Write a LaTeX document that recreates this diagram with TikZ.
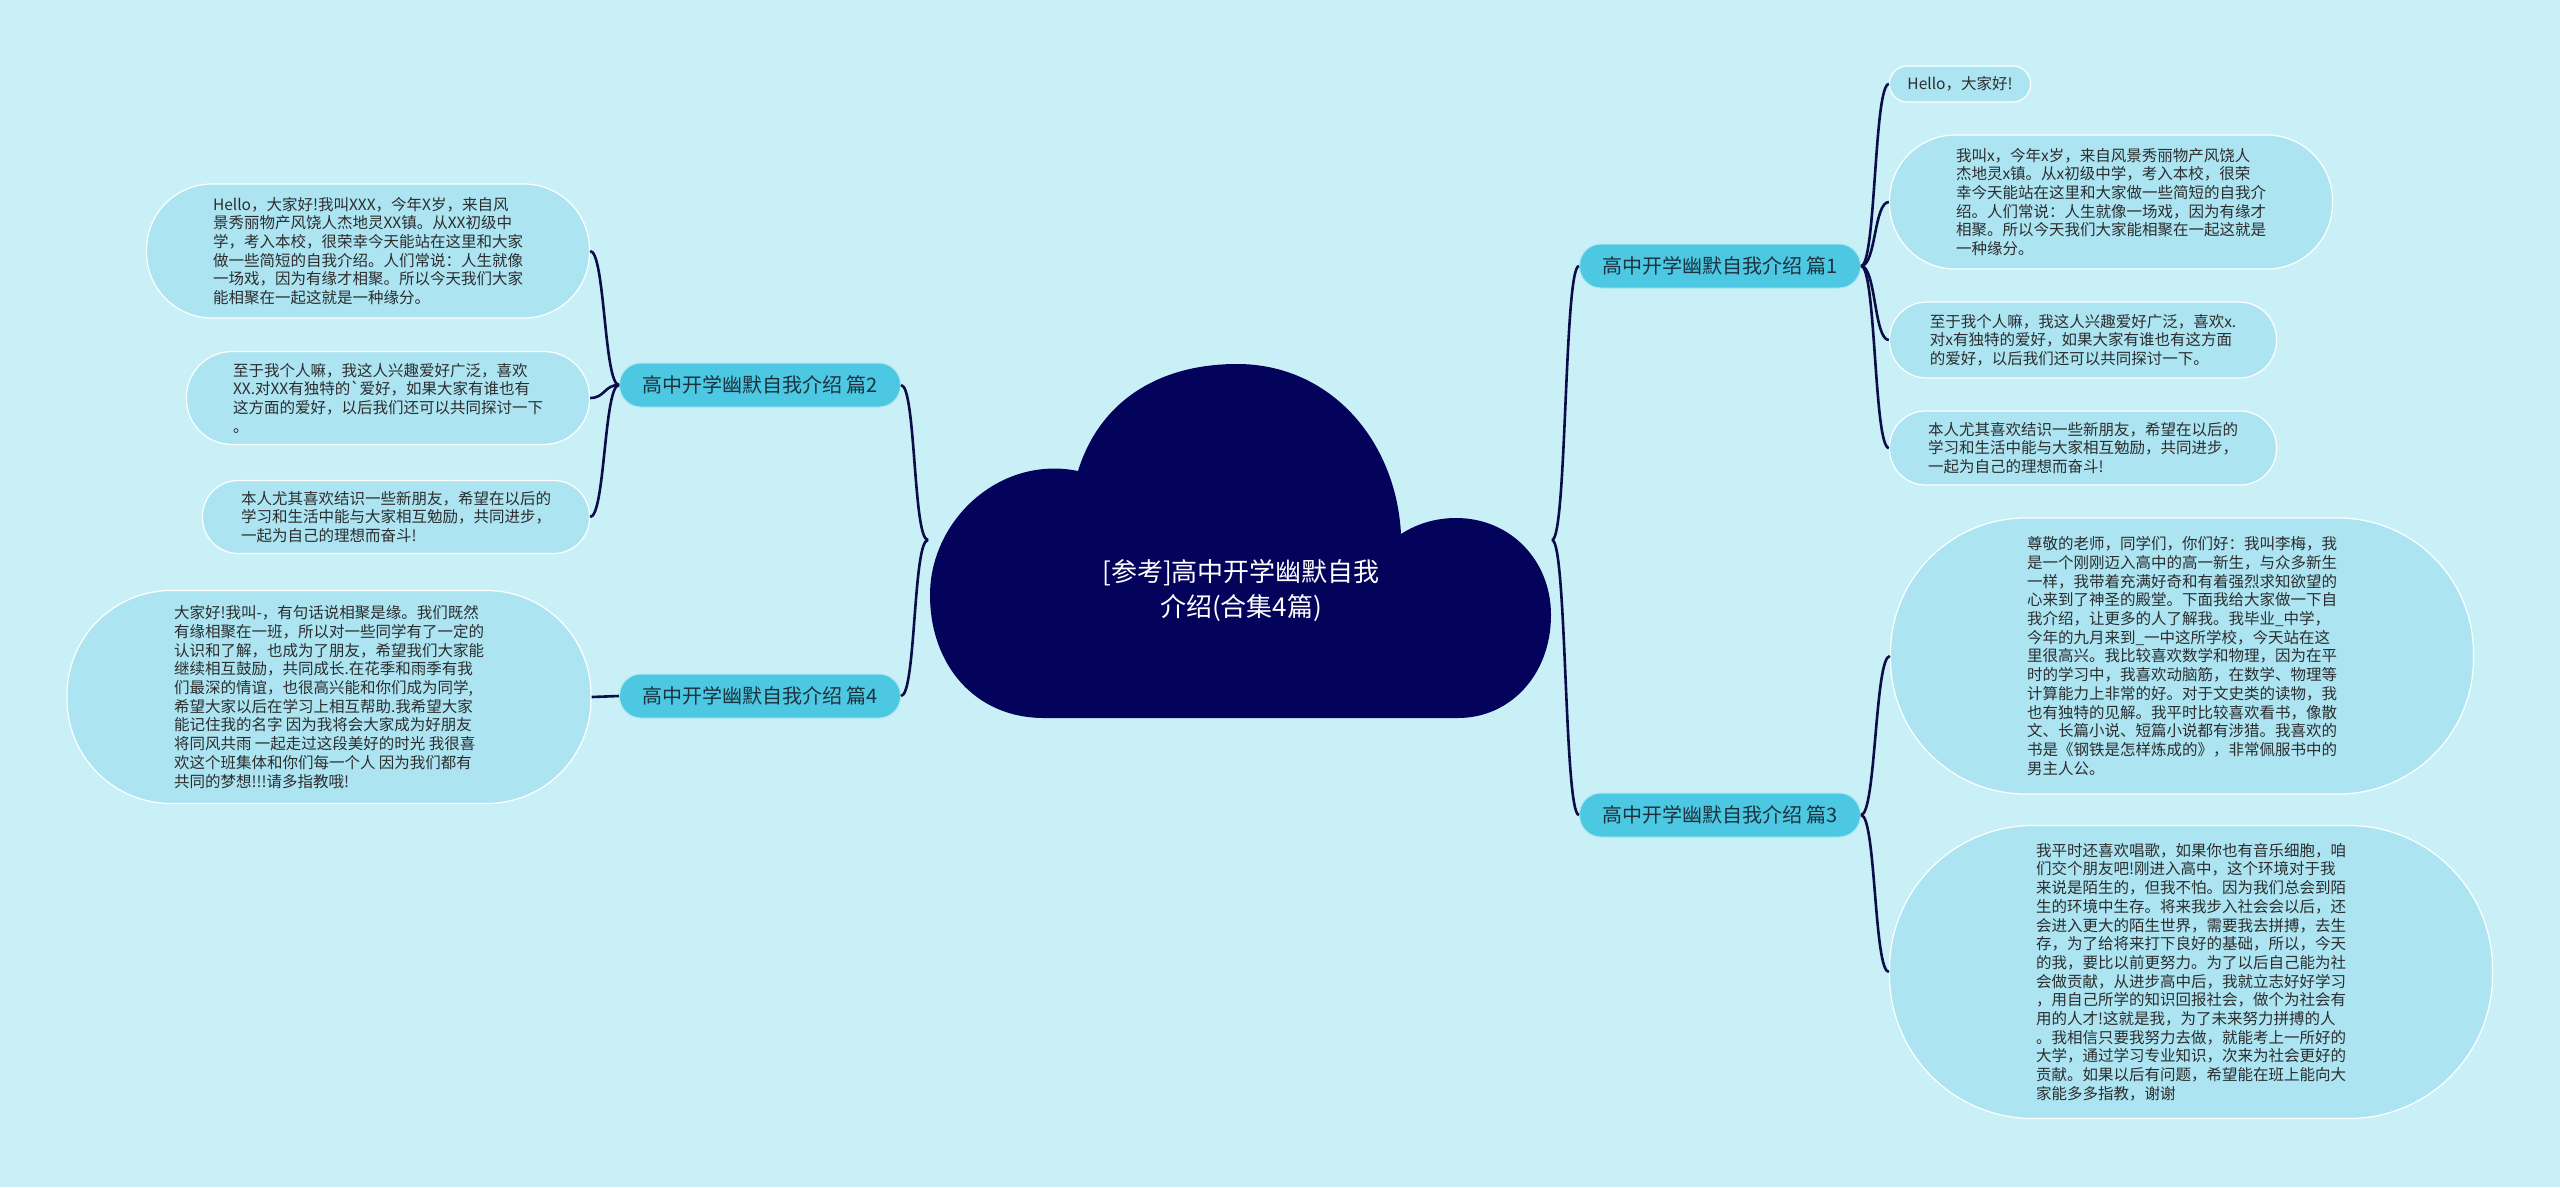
\documentclass[tikz,border=0pt]{standalone}
\usepackage{fontspec}
\setmainfont{Noto Sans CJK SC}
\definecolor{bgcyan}{RGB}{201,239,247}
\definecolor{leaffill}{RGB}{172,228,242}
\definecolor{secfill}{RGB}{76,200,226}
\definecolor{cloudnavy}{RGB}{3,3,92}
\definecolor{linknavy}{RGB}{12,12,72}
\definecolor{textgray}{RGB}{45,45,45}
\definecolor{sectext}{RGB}{28,50,62}

\begin{document}
\begin{tikzpicture}[
  x=1pt, y=-1pt,
  leaf/.style 2 args={draw=white, line width=1.2pt, fill=leaffill, text=textgray, align=left, inner sep=0pt, minimum width=#1, minimum height=#2, rounded corners=#2*0.49, font=\fontsize{15.5}{18.7}\selectfont},
  sec/.style={draw=white!55!secfill, line width=1pt, fill=secfill, text=sectext, inner sep=0pt, minimum width=281, minimum height=44, rounded corners=21.5, font=\fontsize{20}{24}\selectfont},
  link/.style={draw=linknavy, line width=2.6pt},
  title/.style={text=white, align=center, font=\fontsize{26}{35}\selectfont}
]

  \useasboundingbox (0,0) rectangle (2560,1187);
  \fill[bgcyan] (0,0) rectangle (2560,1187);

  % root cloud
  \fill[cloudnavy] (1044,718) .. controls (975,718) and (930,665) .. (930,595)
    .. controls (930,520) and (1000,455) .. (1078,471)
    .. controls (1100,400) and (1160,364) .. (1237,364)
    .. controls (1330,364) and (1396,440) .. (1401,534)
    .. controls (1418,523) and (1437,518) .. (1456,518)
    .. controls (1510,518) and (1551,560) .. (1551,615)
    .. controls (1551,675) and (1510,718) .. (1458,718) -- cycle;
  \node[title] (root) at (1241,590) {[参考]高中开学幽默自我\\介绍(合集4篇)};
  \coordinate (jl) at (928,540);
  \coordinate (jr) at (1552,540);

  % sections
  \node[sec] (sec1) at (1720,266) {高中开学幽默自我介绍 篇1};
  \node[sec] (sec3) at (1720,815) {高中开学幽默自我介绍 篇3};
  \node[sec] (sec2) at (760,385) {高中开学幽默自我介绍 篇2};
  \node[sec] (sec4) at (760,696) {高中开学幽默自我介绍 篇4};

  % leaves of 篇1
  \node[leaf={141}{36}] (s1a) at (1960,84) {Hello，大家好!};
  \node[leaf={443}{134}] (s1b) at (2111,202) {我叫x，今年x岁，来自风景秀丽物产风饶人\\
杰地灵x镇。从x初级中学，考入本校，很荣\\
幸今天能站在这里和大家做一些简短的自我介\\
绍。人们常说：人生就像一场戏，因为有缘才\\
相聚。所以今天我们大家能相聚在一起这就是\\
一种缘分。};
  \node[leaf={387}{76}] (s1c) at (2083,340) {至于我个人嘛，我这人兴趣爱好广泛，喜欢x.\\
对x有独特的爱好，如果大家有谁也有这方面\\
的爱好，以后我们还可以共同探讨一下。};
  \node[leaf={387}{74}] (s1d) at (2083,448) {本人尤其喜欢结识一些新朋友，希望在以后的\\
学习和生活中能与大家相互勉励，共同进步，\\
一起为自己的理想而奋斗!};

  % leaves of 篇3
  \node[leaf={583}{276}] (s3a) at (2182,656) {尊敬的老师，同学们，你们好：我叫李梅，我\\
是一个刚刚迈入高中的高一新生，与众多新生\\
一样，我带着充满好奇和有着强烈求知欲望的\\
心来到了神圣的殿堂。下面我给大家做一下自\\
我介绍，让更多的人了解我。我毕业\_中学，\\
今年的九月来到\_一中这所学校，今天站在这\\
里很高兴。我比较喜欢数学和物理，因为在平\\
时的学习中，我喜欢动脑筋，在数学、物理等\\
计算能力上非常的好。对于文史类的读物，我\\
也有独特的见解。我平时比较喜欢看书，像散\\
文、长篇小说、短篇小说都有涉猎。我喜欢的\\
书是《钢铁是怎样炼成的》，非常佩服书中的\\
男主人公。};
  \node[leaf={603}{293}] (s3b) at (2191,972) {我平时还喜欢唱歌，如果你也有音乐细胞，咱\\
们交个朋友吧!刚进入高中，这个环境对于我\\
来说是陌生的，但我不怕。因为我们总会到陌\\
生的环境中生存。将来我步入社会会以后，还\\
会进入更大的陌生世界，需要我去拼搏，去生\\
存，为了给将来打下良好的基础，所以，今天\\
的我，要比以前更努力。为了以后自己能为社\\
会做贡献，从进步高中后，我就立志好好学习\\
，用自己所学的知识回报社会，做个为社会有\\
用的人才!这就是我，为了未来努力拼搏的人\\
。我相信只要我努力去做，就能考上一所好的\\
大学，通过学习专业知识，次来为社会更好的\\
贡献。如果以后有问题，希望能在班上能向大\\
家能多多指教，谢谢};

  % leaves of 篇2
  \node[leaf={443}{134}] (s2a) at (368,251) {Hello，大家好!我叫XXX，今年X岁，来自风\\
景秀丽物产风饶人杰地灵XX镇。从XX初级中\\
学，考入本校，很荣幸今天能站在这里和大家\\
做一些简短的自我介绍。人们常说：人生就像\\
一场戏，因为有缘才相聚。所以今天我们大家\\
能相聚在一起这就是一种缘分。};
  \node[leaf={403}{93}] (s2b) at (388,398) {至于我个人嘛，我这人兴趣爱好广泛，喜欢\\
XX.对XX有独特的\textasciigrave 爱好，如果大家有谁也有\\
这方面的爱好，以后我们还可以共同探讨一下\\
。};
  \node[leaf={387}{73}] (s2c) at (396,517) {本人尤其喜欢结识一些新朋友，希望在以后的\\
学习和生活中能与大家相互勉励，共同进步，\\
一起为自己的理想而奋斗!};

  % leaf of 篇4
  \node[leaf={524}{213}] (s4a) at (329,697) {大家好!我叫-，有句话说相聚是缘。我们既然\\
有缘相聚在一班，所以对一些同学有了一定的\\
认识和了解，也成为了朋友，希望我们大家能\\
继续相互鼓励，共同成长.在花季和雨季有我\\
们最深的情谊，也很高兴能和你们成为同学,\\
希望大家以后在学习上相互帮助.我希望大家\\
能记住我的名字 因为我将会大家成为好朋友\\
将同风共雨 一起走过这段美好的时光 我很喜\\
欢这个班集体和你们每一个人 因为我们都有\\
共同的梦想!!!请多指教哦!};

  % links
  \draw[link] (jr) .. controls +(15,0) and +(-15,0) .. (sec1.west);
  \draw[link] (jr) .. controls +(15,0) and +(-15,0) .. (sec3.west);
  \draw[link] (jl) .. controls +(-15,0) and +(15,0) .. (sec2.east);
  \draw[link] (jl) .. controls +(-15,0) and +(15,0) .. (sec4.east);

  \draw[link] (sec1.east) .. controls +(15,0) and +(-15,0) .. (s1a.west);
  \draw[link] (sec1.east) .. controls +(15,0) and +(-15,0) .. (s1b.west);
  \draw[link] (sec1.east) .. controls +(15,0) and +(-15,0) .. (s1c.west);
  \draw[link] (sec1.east) .. controls +(15,0) and +(-15,0) .. (s1d.west);
  \draw[link] (sec3.east) .. controls +(15,0) and +(-15,0) .. (s3a.west);
  \draw[link] (sec3.east) .. controls +(15,0) and +(-15,0) .. (s3b.west);

  \draw[link] (sec2.west) .. controls +(-15,0) and +(15,0) .. (s2a.east);
  \draw[link] (sec2.west) .. controls +(-15,0) and +(15,0) .. (s2b.east);
  \draw[link] (sec2.west) .. controls +(-15,0) and +(15,0) .. (s2c.east);
  \draw[link] (sec4.west) -- (s4a.east);

\end{tikzpicture}
\end{document}
